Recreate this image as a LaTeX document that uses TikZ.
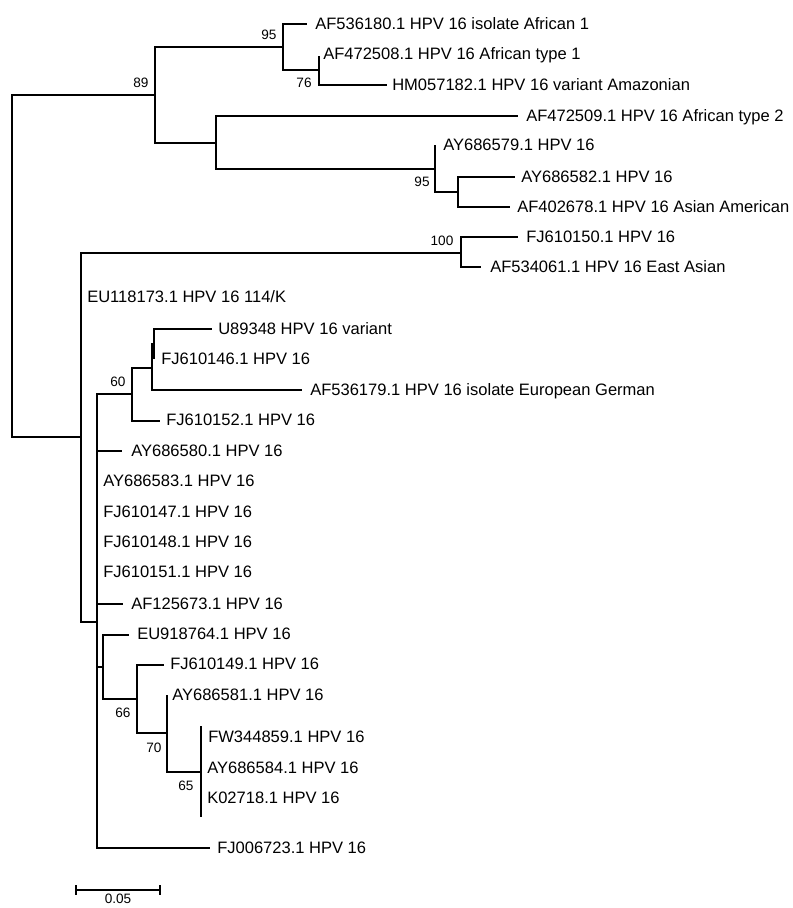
\documentclass[tikz,border=0pt]{standalone}
\usepackage{fontspec}
\setmainfont{Liberation Sans}
\begin{document}
\begin{tikzpicture}[x=0.75pt,y=-0.75pt,
  br/.style={line width=0.8pt, draw=black},
  lab/.style={anchor=base west, inner sep=0pt, font=\fontsize{12.4}{14}\selectfont, yshift=-4.45pt},
  bs/.style={inner sep=0pt, font=\fontsize{10.2}{12}\selectfont}]
\useasboundingbox (0,0) rectangle (793,908);
% internal nodes and tips
\coordinate (root) at (12,266);
\coordinate (n89) at (155,95);
\coordinate (n95a) at (283,47);
\coordinate (tAF536180) at (307,24);
\coordinate (n76) at (319,70);
\coordinate (tAF472508) at (319,56);
\coordinate (tHM057182) at (387,85);
\coordinate (nB) at (216,143);
\coordinate (tAF472509) at (518,116);
\coordinate (n95b) at (435,169);
\coordinate (tAY686579) at (435,145);
\coordinate (nC) at (458,192);
\coordinate (tAY686582) at (515,177);
\coordinate (tAF402678) at (510,207);
\coordinate (n81) at (81,437);
\coordinate (n100) at (461,253);
\coordinate (tFJ610150) at (518,237);
\coordinate (tAF534061) at (481,267);
\coordinate (tEU118173) at (81,296);
\coordinate (n97) at (97,622);
\coordinate (n60) at (132,394);
\coordinate (n152) at (152,368);
\coordinate (n154) at (154,344);
\coordinate (tU89348) at (212,329);
\coordinate (tFJ610146) at (154,359);
\coordinate (tAF536179) at (302,390);
\coordinate (tFJ610152) at (160,421);
\coordinate (tAY686580) at (122,451);
\coordinate (tAF125673) at (123,604);
\coordinate (n103) at (103,667);
\coordinate (tEU918764) at (129,635);
\coordinate (n66) at (137,699);
\coordinate (tFJ610149) at (164,665);
\coordinate (n70) at (167,733);
\coordinate (tAY686581) at (167,695);
\coordinate (n65) at (201,772);
\coordinate (e65a) at (201,726);
\coordinate (e65b) at (201,817);
\coordinate (tFJ006723) at (210,848);
% branches
\draw[br] (root) |- (n89) (root) |- (n81);
\draw[br] (n89) |- (n95a) (n89) |- (nB);
\draw[br] (n95a) |- (tAF536180) (n95a) |- (n76);
\draw[br] (n76) |- (tAF472508) (n76) |- (tHM057182);
\draw[br] (nB) |- (tAF472509) (nB) |- (n95b);
\draw[br] (n95b) |- (tAY686579) (n95b) |- (nC);
\draw[br] (nC) |- (tAY686582) (nC) |- (tAF402678);
\draw[br] (n81) |- (n100) (n81) |- (tEU118173) (n81) |- (n97);
\draw[br] (n100) |- (tFJ610150) (n100) |- (tAF534061);
\draw[br] (n97) |- (n60) (n97) |- (tAY686580) (n97) |- (tAF125673) (n97) |- (n103) (n97) |- (tFJ006723);
\draw[br] (n60) |- (n152) (n60) |- (tFJ610152);
\draw[br] (n152) |- (n154) (n152) |- (tAF536179);
\draw[br] (n154) |- (tU89348) (n154) |- (tFJ610146);
\draw[br] (n103) |- (tEU918764) (n103) |- (n66);
\draw[br] (n66) |- (tFJ610149) (n66) |- (n70);
\draw[br] (n70) |- (tAY686581) (n70) |- (n65);
\draw[br] (n65) -- (e65a) (n65) -- (e65b);
% taxon labels
\node[lab] (lAF536180) at (315,24) {AF536180.1 HPV 16 isolate African 1};
\node[lab] (lAF472508) at (323,54) {AF472508.1 HPV 16 African type 1};
\node[lab] (lHM057182) at (392,85) {HM057182.1 HPV 16 variant Amazonian};
\node[lab] (lAF472509) at (526,116) {AF472509.1 HPV 16 African type 2};
\node[lab] (lAY686579) at (443,145) {AY686579.1 HPV 16};
\node[lab] (lAY686582) at (521,177) {AY686582.1 HPV 16};
\node[lab] (lAF402678) at (517,207) {AF402678.1 HPV 16 Asian American};
\node[lab] (lFJ610150) at (526,237) {FJ610150.1 HPV 16};
\node[lab] (lAF534061) at (490,267) {AF534061.1 HPV 16 East Asian};
\node[lab] (lEU118173) at (87,297) {EU118173.1 HPV 16 114/K};
\node[lab] (lU89348) at (218,329) {U89348 HPV 16 variant};
\node[lab] (lFJ610146) at (161,359) {FJ610146.1 HPV 16};
\node[lab] (lAF536179) at (310,390) {AF536179.1 HPV 16 isolate European German};
\node[lab] (lFJ610152) at (166,420) {FJ610152.1 HPV 16};
\node[lab] (lAY686580) at (131,451) {AY686580.1 HPV 16};
\node[lab] (lAY686583) at (103,481) {AY686583.1 HPV 16};
\node[lab] (lFJ610147) at (103,512) {FJ610147.1 HPV 16};
\node[lab] (lFJ610148) at (103,542) {FJ610148.1 HPV 16};
\node[lab] (lFJ610151) at (103,572) {FJ610151.1 HPV 16};
\node[lab] (lAF125673) at (131,604) {AF125673.1 HPV 16};
\node[lab] (lEU918764) at (137,634) {EU918764.1 HPV 16};
\node[lab] (lFJ610149) at (170,664) {FJ610149.1 HPV 16};
\node[lab] (lAY686581) at (172,695) {AY686581.1 HPV 16};
\node[lab] (lFW344859) at (208,737) {FW344859.1 HPV 16};
\node[lab] (lAY686584) at (207,768) {AY686584.1 HPV 16};
\node[lab] (lK02718) at (207,798) {K02718.1 HPV 16};
\node[lab] (lFJ006723) at (217,848) {FJ006723.1 HPV 16};
% bootstrap values
\node[bs] (b95a) at (269,35) {95};
\node[bs] (b89) at (141,83) {89};
\node[bs] (b76) at (304,83) {76};
\node[bs] (b95b) at (422,182) {95};
\node[bs] (b100) at (442,241) {100};
\node[bs] (b60) at (118,382) {60};
\node[bs] (b66) at (123,713) {66};
\node[bs] (b70) at (154,748) {70};
\node[bs] (b65) at (186,786) {65};
% scale bar
\coordinate (sbL) at (76,890);
\coordinate (sbR) at (160,890);
\coordinate (sbLt) at (76,885);
\coordinate (sbLb) at (76,895);
\coordinate (sbRt) at (160,885);
\coordinate (sbRb) at (160,895);
\draw[br] (sbL) -- (sbR);
\draw[br] (sbLt) -- (sbLb);
\draw[br] (sbRt) -- (sbRb);
\node[bs, anchor=north] (sblab) at (118,894) {0.05};
\end{tikzpicture}
\end{document}
